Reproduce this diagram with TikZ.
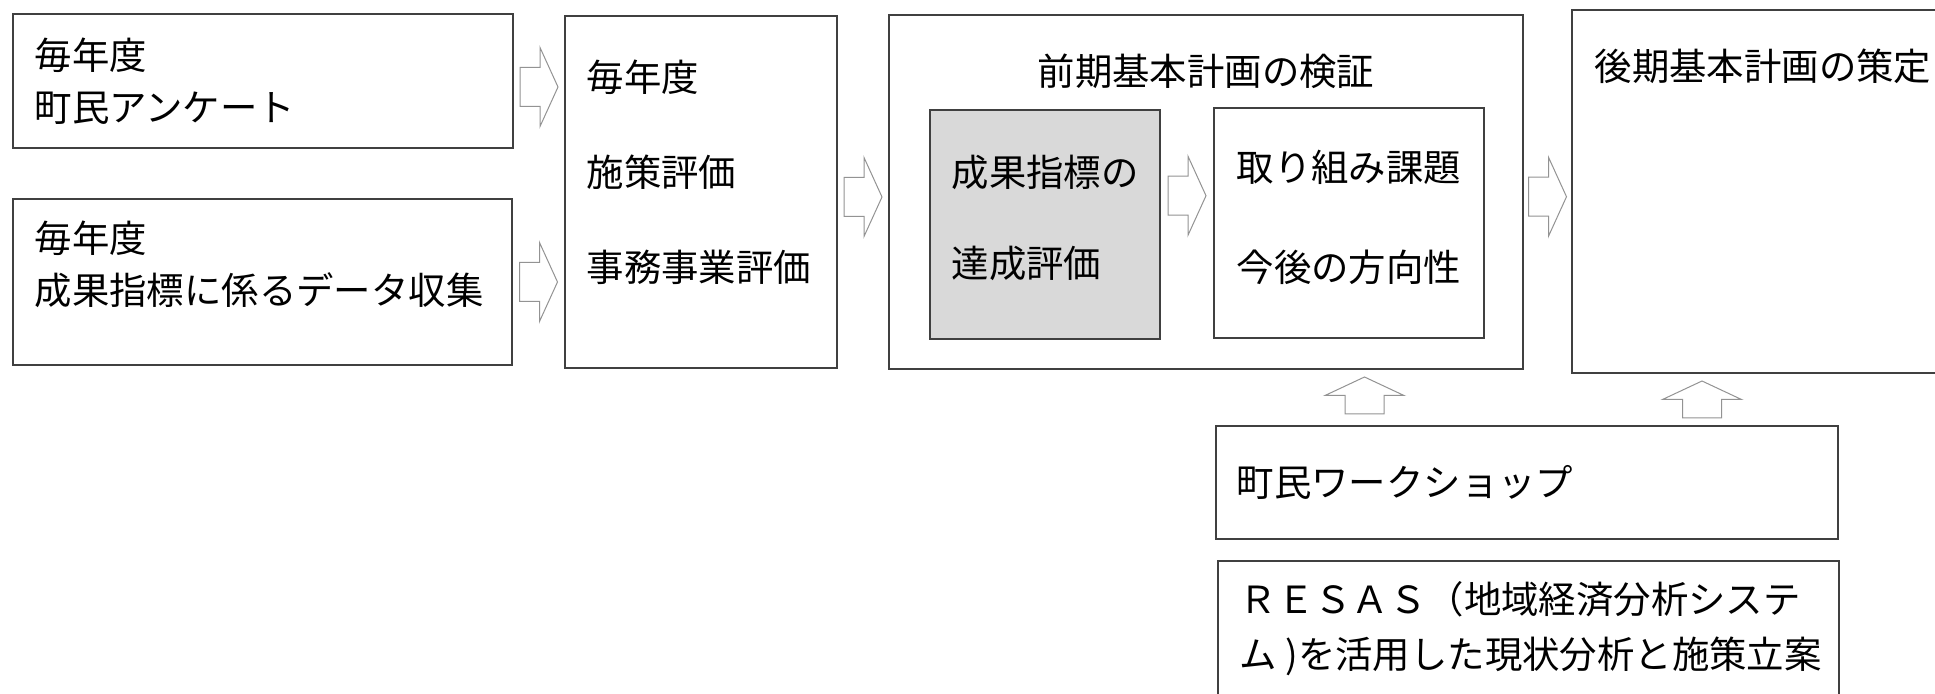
\documentclass[tikz,border=0pt]{standalone}
\usepackage{fontspec}
\setmainfont{Noto Sans CJK JP}
\usetikzlibrary{calc,fit}
\newcommand\jpfont[1]{\fontsize{18.7pt}{#1}\selectfont}
\tikzset{
	box/.style={draw=black!75, line width=0.75pt, inner sep=0pt},
	txt/.style={inner sep=0pt, anchor=west, align=left},
	rarr/.pic={\draw[gray!85, line width=0.5pt, fill=white] (-19,-19.5) -- (1,-19.5) -- (1,-39.5) -- (19,0) -- (1,39.5) -- (1,19.5) -- (-19,19.5) -- cycle;},
	uarr/.pic={\draw[gray!85, line width=0.5pt, fill=white] (0,-18.5) -- (39.5,0) -- (19.5,0) -- (19.5,18.5) -- (-19.5,18.5) -- (-19.5,0) -- (-39.5,0) -- cycle;}
}
\begin{document}
\begin{tikzpicture}[x=0.5pt, y=-0.5pt]
	\useasboundingbox (0,0) rectangle (1935,694);
	\clip (0,0) rectangle (1935,694);
	% boxes
	\node[box, fit={(13,14) (513,148)}] (anke) {};
	\node[box, fit={(13,199) (512,365)}] (data) {};
	\node[box, fit={(565,16) (837,368)}] (shisaku) {};
	\node[box, fit={(889,15) (1523,369)}] (kensho) {};
	\node[box, fill=gray!30, fit={(930,110) (1160,339)}] (tassei) {};
	\node[box, fit={(1214,108) (1484,338)}] (kadai) {};
	\node[box, fit={(1572,10) (1960,373)}] (sakutei) {};
	\node[box, fit={(1216,426) (1838,539)}] (ws) {};
	\node[box, fit={(1218,561) (1839,720)}] (resas) {};
	% texts
	\node[txt, font=\jpfont{26pt}] (anketxt) at ($(anke.west)+(22,0)$) {毎年度\\町民アンケート};
	\node[txt, font=\jpfont{26pt}] (datatxt) at ($(data.west)+(22,-18)$) {毎年度\\成果指標に係るデータ収集};
	\node[txt, font=\jpfont{47.5pt}] (shisakutxt) at ($(shisaku.west)+(22,-20)$) {毎年度\\施策評価\\事務事業評価};
	\node[inner sep=0pt, font=\jpfont{22pt}] (kenshotxt) at ($(kensho.north)+(0,57)$) {前期基本計画の検証};
	\node[txt, font=\jpfont{45.5pt}] (tasseitxt) at ($(tassei.west)+(22,-7)$) {成果指標の\\達成評価};
	\node[txt, font=\jpfont{50pt}] (kadaitxt) at ($(kadai.west)+(23,-6)$) {取り組み課題\\今後の方向性};
	\node[txt, font=\jpfont{22pt}] (sakuteitxt) at ($(sakutei.north west)+(23,57)$) {後期基本計画の策定};
	\node[txt, font=\jpfont{22pt}] (wstxt) at ($(ws.west)+(21,0)$) {町民ワークショップ};
	\node[txt, font=\jpfont{27.5pt}] (resastxt) at ($(resas.north west)+(22,68.5)$) {ＲＥＳＡＳ（地域経済分析システ\\ム )を活用した現状分析と施策立案};
	% arrows
	\pic at ($(anke.east)!.5!(anke.east -| shisaku.west)+(0,6)$) {rarr};
	\pic at ($(data.east)!.5!(data.east -| shisaku.west)$) {rarr};
	\pic at ($(shisaku.east)!.5!(kensho.west)+(0,5)$) {rarr};
	\pic at ($(tassei.east)!.5!(kadai.west)+(0,-28)$) {rarr};
	\pic at ($(kensho.east)!.5!(sakutei.west)+(0,5)$) {rarr};
	\pic at ($(kensho.south)!.5!(ws.north)+(-2,-2)$) {uarr};
	\pic at ($(sakutei.south)!.5!(sakutei.south |- ws.north)+(-64,0)$) {uarr};
\end{tikzpicture}
\end{document}
